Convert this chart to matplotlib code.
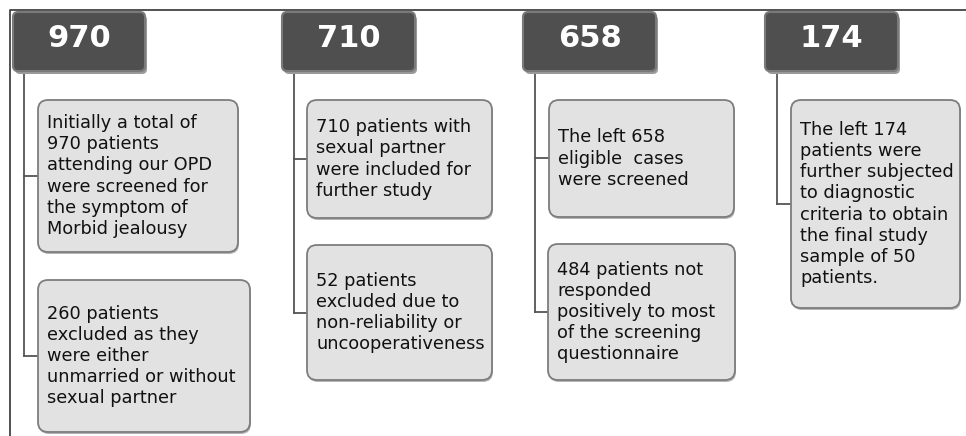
import matplotlib
matplotlib.use("Agg")
import matplotlib.pyplot as plt
from matplotlib.patches import FancyBboxPatch

# Header counts and step descriptions for each column
counts = ["970", "710", "658", "174"]
step_texts = [
    ["Initially a total of\n970 patients\nattending our OPD\nwere screened for\nthe symptom of\nMorbid jealousy",
     "260 patients\nexcluded as they\nwere either\nunmarried or without\nsexual partner"],
    ["710 patients with\nsexual partner\nwere included for\nfurther study",
     "52 patients\nexcluded due to\nnon-reliability or\nuncooperativeness"],
    ["The left 658\neligible  cases\nwere screened",
     "484 patients not\nresponded\npositively to most\nof the screening\nquestionnaire"],
    ["The left 174\npatients were\nfurther subjected\nto diagnostic\ncriteria to obtain\nthe final study\nsample of 50\npatients."],
]

# layout in pixels (x0, y0, x1, y1)
header_boxes = [(13, 12, 145, 71), (282, 12, 415, 71), (523, 12, 656, 71), (765, 12, 898, 71)]
trunk_x = [24, 294, 535, 777]
text_boxes = [
    [(38, 100, 238, 252), (38, 280, 250, 432)],
    [(307, 100, 492, 218), (307, 245, 492, 380)],
    [(549, 100, 734, 217), (548, 244, 735, 380)],
    [(791, 100, 960, 308)],
]

fig = plt.figure(figsize=(9.66, 4.36), dpi=100)
ax = fig.add_axes([0, 0, 1, 1])
ax.set_xlim(0, 966)
ax.set_ylim(436, 0)
ax.axis("off")

# outer frame lines
ax.plot([10, 10, 966], [436, 10, 10], color="#333333", lw=1.2)

for i, count in enumerate(counts):
    hx0, hy0, hx1, hy1 = header_boxes[i]
    # shadow
    ax.add_patch(FancyBboxPatch((hx0 + 2, hy0 + 3), hx1 - hx0, hy1 - hy0,
                                boxstyle="round,pad=0,rounding_size=5",
                                fc="#9a9a9a", ec="none", zorder=2))
    ax.add_patch(FancyBboxPatch((hx0, hy0), hx1 - hx0, hy1 - hy0,
                                boxstyle="round,pad=0,rounding_size=5",
                                fc="#4f4f4f", ec="#7a7a7a", lw=1.5, zorder=3))
    ax.text((hx0 + hx1) / 2, (hy0 + hy1) / 2 - 3, count, color="white",
            fontsize=22, fontweight="bold", family="DejaVu Sans",
            ha="center", va="center", zorder=4)

    tx = trunk_x[i]
    boxes = text_boxes[i]
    last_mid = (boxes[-1][1] + boxes[-1][3]) / 2
    ax.plot([tx, tx], [hy1, last_mid], color="#555555", lw=1.3, zorder=1)

    for j, txt in enumerate(step_texts[i]):
        bx0, by0, bx1, by1 = boxes[j]
        mid = (by0 + by1) / 2
        ax.plot([tx, bx0], [mid, mid], color="#555555", lw=1.3, zorder=1)
        ax.add_patch(FancyBboxPatch((bx0 + 1, by0 + 2), bx1 - bx0, by1 - by0,
                                    boxstyle="round,pad=0,rounding_size=10",
                                    fc="#b5b5b5", ec="none", zorder=2))
        ax.add_patch(FancyBboxPatch((bx0, by0), bx1 - bx0, by1 - by0,
                                    boxstyle="round,pad=0,rounding_size=10",
                                    fc="#e2e2e2", ec="#7d7d7d", lw=1.3, zorder=3))
        ax.text(bx0 + 9, mid, txt, color="#111111", fontsize=12.75, family="DejaVu Sans",
                ha="left", va="center", linespacing=1.23, zorder=4)

fig.savefig("out.png", dpi=100)
